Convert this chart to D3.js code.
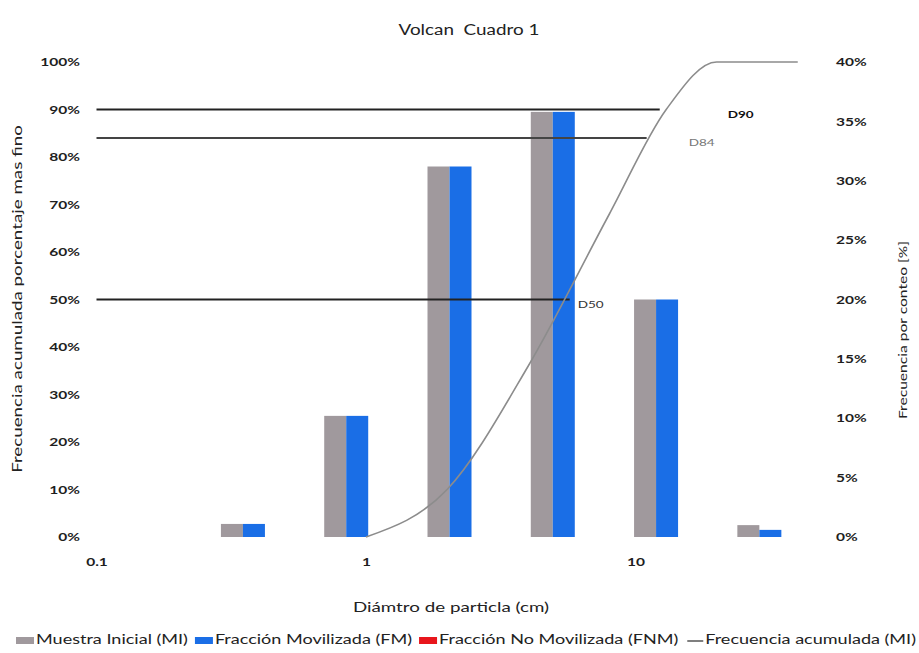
<!DOCTYPE html>
<html>
<head>
<meta charset="utf-8">
<script src="https://cdn.jsdelivr.net/npm/d3@7"></script>
<style>
  html, body { margin: 0; padding: 0; background: #fff; }
  svg { display: block; font-family: Lato, "Open Sans", sans-serif; }
</style>
</head>
<body>
<svg id="chart" width="919" height="653"></svg>
<script>
// Size classes (bar categories) and per-class frequency, in %
const classes = ["<0.5", "0.5-1", "1-2", "2-4", "4-8", "8-16", ">16"];
const muestraInicial = [0, 1.1, 10.2, 31.2, 35.8, 20.0, 1.0];
const fraccionMovilizada = [0, 1.1, 10.2, 31.2, 35.8, 20.0, 0.6];
const fraccionNoMovilizada = [0, 0, 0, 0, 0, 0, 0];

// Cumulative curve (MI): diameter in cm, cumulative % finer
const cumDiam = [1, 2, 4, 8, 13, 20, 40];
const cumPct = [0, 10, 36, 68, 90, 100, 100];

// Characteristic diameters
const dNames = ["D50", "D84", "D90"];
const dPct = [50, 84, 90];
const dDiam = [5.7, 11.0, 12.3];

// Axis ticks
const xTicks = [0.1, 1, 10];
const leftTicks = [0, 10, 20, 30, 40, 50, 60, 70, 80, 90, 100];
const rightTicks = [0, 5, 10, 15, 20, 25, 30, 35, 40];

const svg = d3.select("#chart");
const plot = { left: 88, right: 811, top: 62, bottom: 537 };

// Widen text horizontally by factor k (glyphs and spacing)
function stretch(sel, k) {
  sel.each(function () {
    const w = this.getComputedTextLength();
    d3.select(this).attr("textLength", w * k).attr("lengthAdjust", "spacingAndGlyphs");
  });
  return sel;
}

const xBand = d3.scaleBand().domain(classes).range([plot.left, plot.right]);
const seriesKeys = ["MI", "FM", "FNM"];
const barW = 22;
const xSub = d3.scaleBand().domain(seriesKeys)
  .range([xBand.bandwidth() / 2 - barW, xBand.bandwidth() / 2 + 2 * barW]);

const xLog = d3.scaleLog().domain([0.1, 10]).range([96.5, 635.5]);
const yLeft = d3.scaleLinear().domain([0, 100]).range([plot.bottom, plot.top]);
const yRight = d3.scaleLinear().domain([0, 40]).range([plot.bottom, plot.top]);

const colors = { MI: "#a0999d", FM: "#1a6ee6", FNM: "#e8161c", cum: "#8c8c8c" };

// Bars
const series = [
  { key: "MI", values: muestraInicial },
  { key: "FM", values: fraccionMovilizada },
  { key: "FNM", values: fraccionNoMovilizada }
];
series.forEach(s => {
  svg.append("g").selectAll("rect")
    .data(s.values.map((v, i) => ({ c: classes[i], v })))
    .join("rect")
    .attr("x", d => xBand(d.c) + xSub(s.key))
    .attr("width", xSub.bandwidth())
    .attr("y", d => yRight(d.v))
    .attr("height", d => yRight(0) - yRight(d.v))
    .attr("fill", colors[s.key]);
});

// Reference lines for D50 / D84 / D90
const dData = dNames.map((n, i) => ({ n, p: dPct[i], d: dDiam[i] }));
svg.append("g").selectAll("line")
  .data(dData)
  .join("line")
  .attr("x1", xLog(0.1))
  .attr("x2", d => xLog(d.d))
  .attr("y1", d => yLeft(d.p))
  .attr("y2", d => yLeft(d.p))
  .attr("stroke", d => d.n === "D84" ? "#444" : "#222")
  .attr("stroke-width", 2.2);

// Cumulative frequency curve
const cumLine = d3.line()
  .x(d => xLog(d[0]))
  .y(d => yLeft(d[1]))
  .curve(d3.curveMonotoneX);
svg.append("path")
  .datum(cumDiam.map((d, i) => [d, cumPct[i]]))
  .attr("d", cumLine)
  .attr("fill", "none")
  .attr("stroke", colors.cum)
  .attr("stroke-width", 1.6);

// D labels (placed beside the end of each reference line)
const labelOffset = { D50: [8, 6], D84: [42, 5], D90: [68, 6] };
const labelStyle = {
  D50: { fill: "#333", weight: 400 },
  D84: { fill: "#777", weight: 400 },
  D90: { fill: "#111", weight: 700 }
};
stretch(svg.append("g").selectAll("text")
  .data(dData)
  .join("text")
  .attr("x", d => xLog(d.d) + labelOffset[d.n][0])
  .attr("y", d => yLeft(d.p) + labelOffset[d.n][1])
  .attr("dominant-baseline", "middle")
  .attr("font-size", 10)
  .attr("fill", d => labelStyle[d.n].fill)
  .attr("font-weight", d => labelStyle[d.n].weight)
  .text(d => d.n), 1.35);

// Axes
const tickColor = "#1e1e1e";
const leftAxis = svg.append("g")
  .attr("transform", `translate(${plot.left - 8},0)`)
  .call(d3.axisLeft(yLeft).tickValues(leftTicks).tickFormat(d => d + "%").tickSize(0).tickPadding(0));
const rightAxis = svg.append("g")
  .attr("transform", `translate(${plot.right + 25},0)`)
  .call(d3.axisRight(yRight).tickValues(rightTicks).tickFormat(d => d + "%").tickSize(0).tickPadding(0));
const bottomAxis = svg.append("g")
  .attr("transform", `translate(0,${plot.bottom + 21})`)
  .call(d3.axisBottom(xLog).tickValues(xTicks).tickFormat(d3.format("")).tickSize(0).tickPadding(0));

[leftAxis, rightAxis, bottomAxis].forEach(g => {
  g.select(".domain").remove();
  g.selectAll("text")
    .attr("font-family", "Lato, 'Open Sans', sans-serif")
    .attr("font-size", 11.5)
    .attr("font-weight", 700)
    .attr("fill", tickColor);
  stretch(g.selectAll("text"), 1.35);
});
leftAxis.selectAll("text").attr("x", 0);

// Titles
stretch(svg.append("text")
  .attr("x", 469).attr("y", 35)
  .attr("text-anchor", "middle")
  .attr("font-size", 14.5)
  .attr("fill", "#222")
  .style("white-space", "pre")
  .text("Volcan  Cuadro 1"), 1.3);

stretch(svg.append("text")
  .attr("x", 451).attr("y", 612)
  .attr("text-anchor", "middle")
  .attr("font-size", 12.5)
  .attr("fill", "#222")
  .text("Diámtro de particla (cm)"), 1.5);

stretch(svg.append("text")
  .attr("transform", "translate(22,299) rotate(-90)")
  .attr("text-anchor", "middle")
  .attr("font-size", 12.5)
  .attr("fill", "#222")
  .text("Frecuencia acumulada porcentaje mas fino"), 1.5);

stretch(svg.append("text")
  .attr("transform", "translate(907,330) rotate(-90)")
  .attr("text-anchor", "middle")
  .attr("font-size", 12)
  .attr("fill", "#222")
  .text("Frecuencia por conteo [%]"), 1.3);

// Legend, spread across the bottom of the chart
const legendItems = [
  { label: "Muestra Inicial (MI)", color: colors.MI, type: "rect" },
  { label: "Fracción Movilizada (FM)", color: colors.FM, type: "rect" },
  { label: "Fracción No Movilizada (FNM)", color: colors.FNM, type: "rect" },
  { label: "Frecuencia acumulada (MI)", color: colors.cum, type: "line" }
];
const legend = svg.append("g").attr("transform", "translate(0,641)");
const legendStart = 16, legendEnd = 916, markerW = 18, markerGap = 2, itemGap = 7;
const texts = legendItems.map(item =>
  legend.append("text")
    .attr("y", 0)
    .attr("dominant-baseline", "middle")
    .attr("font-size", 12.5)
    .attr("fill", "#222")
    .text(item.label));
const natural = texts.map(t => t.node().getComputedTextLength());
const avail = (legendEnd - legendStart) - legendItems.length * (markerW + markerGap) - (legendItems.length - 1) * itemGap;
const scaleK = avail / d3.sum(natural);
let lx = legendStart;
legendItems.forEach((item, i) => {
  if (item.type === "rect") {
    legend.append("rect").attr("x", lx).attr("y", -4).attr("width", markerW).attr("height", 7).attr("fill", item.color);
  } else {
    legend.append("line").attr("x1", lx + 2).attr("x2", lx + markerW).attr("y1", 0).attr("y2", 0)
      .attr("stroke", "#555").attr("stroke-width", 1.5);
  }
  lx += markerW + markerGap;
  const w = natural[i] * scaleK;
  texts[i].attr("x", lx).attr("textLength", w).attr("lengthAdjust", "spacingAndGlyphs");
  lx += w + itemGap;
});
</script>
</body>
</html>
